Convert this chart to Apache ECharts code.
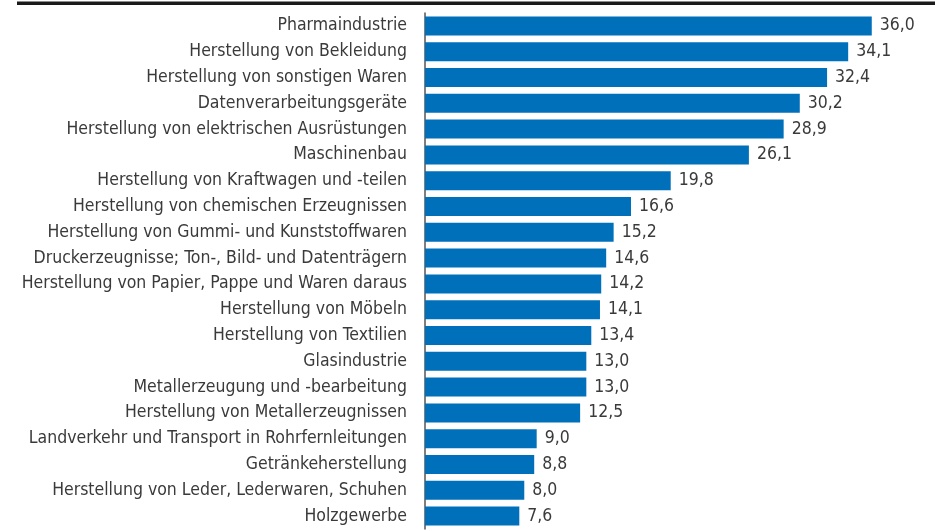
<!DOCTYPE html>
<html>
<head>
<meta charset="utf-8">
<script src="https://cdn.jsdelivr.net/npm/echarts@6/dist/echarts.min.js"></script>
<style>
  html, body { margin: 0; padding: 0; background: #fff; }
  #chart { width: 935px; height: 531px; }
</style>
</head>
<body>
<div id="chart"></div>
<script>
// branches, top to bottom
const categories = [
  'Pharmaindustrie',
  'Herstellung von Bekleidung',
  'Herstellung von sonstigen Waren',
  'Datenverarbeitungsgeräte',
  'Herstellung von elektrischen Ausrüstungen',
  'Maschinenbau',
  'Herstellung von Kraftwagen und -teilen',
  'Herstellung von chemischen Erzeugnissen',
  'Herstellung von Gummi- und Kunststoffwaren',
  'Druckerzeugnisse; Ton-, Bild- und Datenträgern',
  'Herstellung von Papier, Pappe und Waren daraus',
  'Herstellung von Möbeln',
  'Herstellung von Textilien',
  'Glasindustrie',
  'Metallerzeugung und -bearbeitung',
  'Herstellung von Metallerzeugnissen',
  'Landverkehr und Transport in Rohrfernleitungen',
  'Getränkeherstellung',
  'Herstellung von Leder, Lederwaren, Schuhen',
  'Holzgewerbe'
]
const values = [36.0, 34.1, 32.4, 30.2, 28.9, 26.1, 19.8, 16.6, 15.2, 14.6,
  14.2, 14.1, 13.4, 13.0, 13.0, 12.5, 9.0, 8.8, 8.0, 7.6]

const FONT = '"DejaVu Sans Condensed", "Liberation Sans Narrow", sans-serif'
const chart = echarts.init(document.getElementById('chart'))
const option = {
  backgroundColor: '#fff',
  animation: false,
  graphic: [{
    type: 'rect',
    shape: { x: 17, y: 1.5, width: 918, height: 3.5 },
    style: { fill: '#1a1a1a' }
  }],
  grid: { left: 425, right: 13.6, top: 13, bottom: 2 },
  xAxis: {
    type: 'value',
    min: 0,
    max: 40,
    show: false
  },
  yAxis: {
    type: 'category',
    inverse: true,
    data: categories,
    axisLine: { show: true, lineStyle: { color: '#555', width: 1.5 } },
    axisTick: { show: false },
    axisLabel: {
      margin: 18,
      color: '#3a3a3a',
      fontFamily: FONT,
      fontSize: 17.5
    }
  },
  series: [{
    type: 'bar',
    data: values,
    barWidth: 19,
    itemStyle: { color: '#0070ba' },
    label: {
      show: true,
      position: 'right',
      distance: 8,
      color: '#3a3a3a',
      fontFamily: FONT,
      fontSize: 17.5,
      formatter: p => p.value.toFixed(1).replace('.', ',')
    }
  }]
}
chart.setOption(option)
</script>
</body>
</html>
